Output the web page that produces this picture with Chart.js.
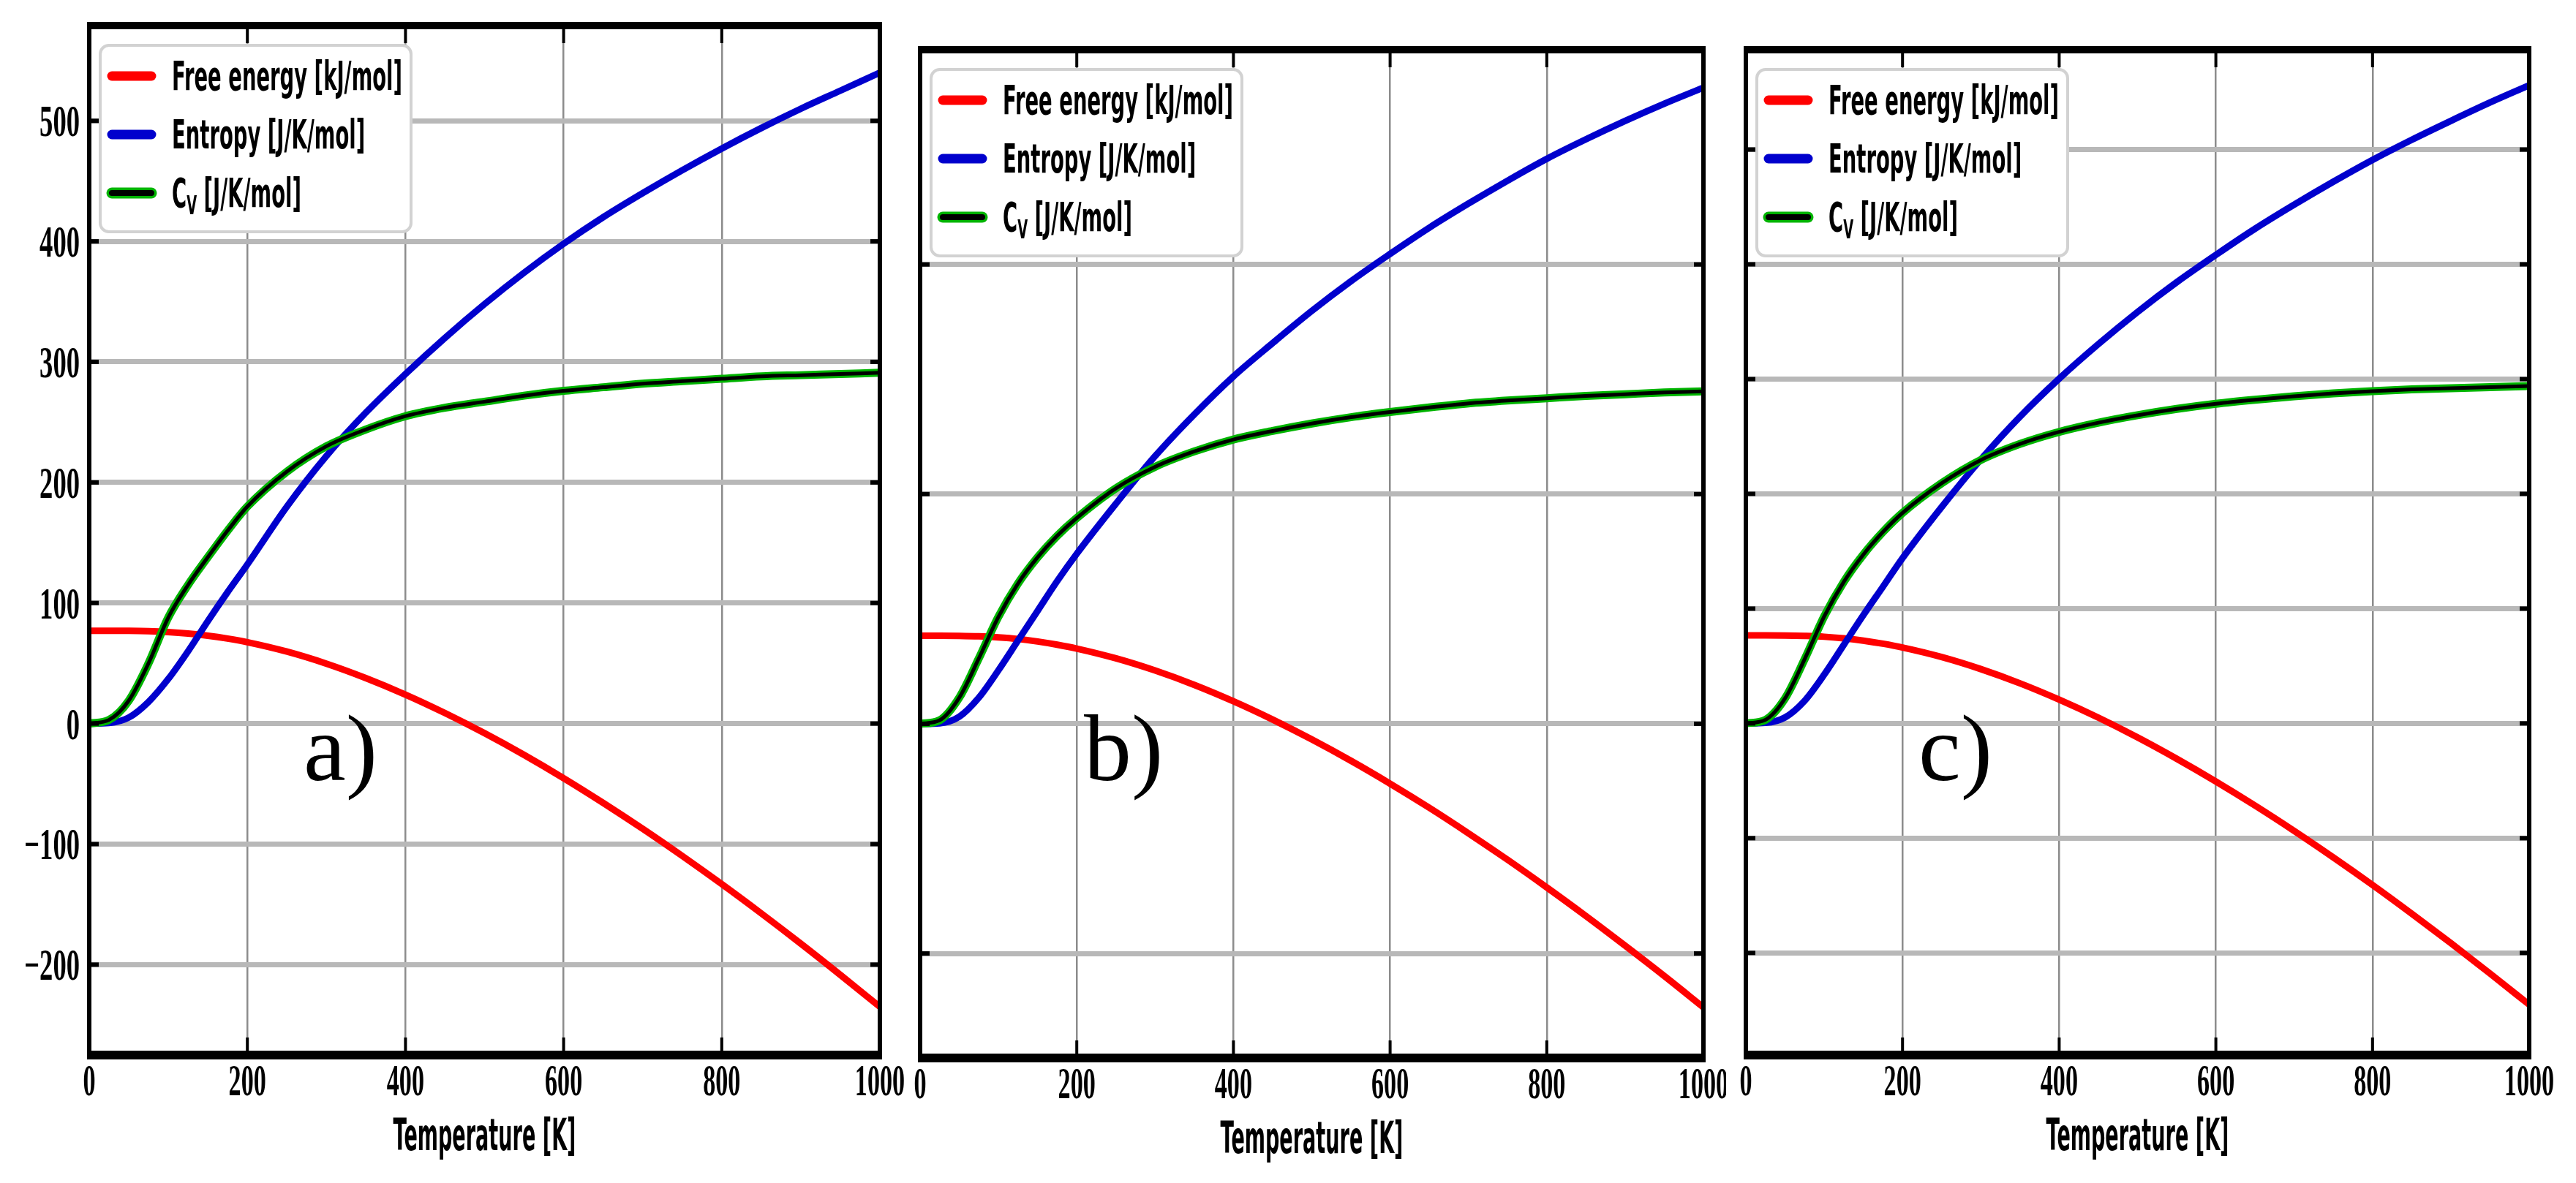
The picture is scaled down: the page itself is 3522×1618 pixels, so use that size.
<!DOCTYPE html>
<html>
<head>
<meta charset="utf-8">
<script src="https://cdn.jsdelivr.net/npm/chart.js@4.4.1/dist/chart.umd.min.js"></script>
<style>
  html, body { margin: 0; padding: 0; background: #fff; }
  body { width: 3522px; height: 1618px; position: relative; overflow: hidden; }
  canvas { position: absolute; top: 0; }
</style>
</head>
<body>
<canvas id="chartA" width="1260" height="1618" style="left:0px"></canvas>
<canvas id="chartB" width="1130" height="1618" style="left:1230px"></canvas>
<canvas id="chartC" width="1162" height="1618" style="left:2360px"></canvas>
<script>
// Temperature grid (K) shared by all three panels
const temps = [0, 25, 50, 75, 100, 125, 150, 175, 200, 250, 300, 350, 400, 450, 500, 550, 600, 650, 700, 750, 800, 850, 900, 950, 1000];

// Panel a)
const freeA = [77, 77, 76.9, 76.6, 75.9, 74.7, 72.9, 70.5, 67.5, 59.7, 49.7, 37.7, 24, 8.7, -8, -26, -45.3, -65.8, -87.3, -109.8, -133.2, -157.5, -182.6, -208.5, -235];
const entropyA = [0, 0.5, 5, 18, 37, 60, 85, 109, 132, 180, 222, 258, 290, 320, 348, 374, 398, 420, 440, 459, 477, 494, 510, 525, 540];
const cvA = [0, 3, 19, 50, 88, 115, 138, 160, 180, 209, 230, 244, 255, 262, 267, 272, 276, 279, 282, 284, 286, 288, 289, 290, 291];

// Panel b)
const freeB = [76.7, 76.7, 76.6, 76.2, 75.3, 73.9, 71.7, 68.9, 65.5, 57, 46.4, 33.9, 19.6, 3.7, -13.6, -32.2, -52.1, -73.1, -95.3, -118.4, -142.5, -167.4, -193.2, -219.6, -246.9];
const entropyB = [0, 0.5, 6.2, 22.8, 46.6, 72.5, 98.4, 124.3, 148.1, 191.7, 233.1, 269.4, 302.5, 331.5, 359.5, 385.4, 409.2, 432, 453, 473, 492, 509, 525, 540, 554];
const cvB = [0, 3.1, 22.8, 57, 93.2, 122.2, 145, 163.7, 179.2, 205.1, 223.8, 237.2, 247.6, 255, 261.5, 267, 271.5, 275.5, 279, 281.5, 283.5, 285.5, 287, 288.5, 289.5];

// Panel c)
const freeC = [76.7, 76.7, 76.6, 76.2, 75.5, 74.1, 72.1, 69.4, 66.1, 57.8, 47.3, 34.9, 20.7, 5, -12.2, -30.8, -50.6, -71.6, -93.7, -116.8, -140.8, -165.8, -191.5, -218, -245.1];
const entropyC = [0, 0.5, 5.2, 19.7, 42.5, 68.4, 94.3, 119.1, 144, 188.6, 230, 267.3, 300.4, 330.5, 358.5, 384.4, 408.2, 431, 452, 472, 491, 508.5, 525, 541, 556];
const cvC = [0, 3.1, 21.8, 55.9, 93.2, 123.3, 147.1, 166.8, 183.4, 209.3, 229.5, 243.5, 254, 262, 268.5, 274, 278.5, 282, 285, 287.5, 289.5, 291, 292, 293, 294];

const seriesNames = ['Free energy [kJ/mol]', 'Entropy [J/K/mol]', 'C|V| [J/K/mol]'];
const xTitle = 'Temperature [K]';
const panelLetters = ['a)', 'b)', 'c)'];

const RED = '#ff0000', BLUE = '#0000cd', GREEN = '#00b400';

function points(ys) {
  return temps.map((t, i) => ({ x: t, y: ys[i] }));
}

function scaledText(ctx, text, x, y, sx, align) {
  ctx.save();
  ctx.translate(x, y);
  ctx.scale(sx, 1);
  ctx.textAlign = align;
  ctx.fillText(text, 0, 0);
  ctx.restore();
}

function drawLegend(ctx, ca) {
  const x0 = ca.left + 15, y0 = ca.top + 27, w = 425, h = 255;
  ctx.save();
  ctx.beginPath();
  ctx.roundRect(x0, y0, w, h, 12);
  ctx.fillStyle = '#fff';
  ctx.fill();
  ctx.lineWidth = 4;
  ctx.strokeStyle = '#d2d2d2';
  ctx.stroke();

  ctx.font = 'bold 55px "DejaVu Sans"';
  const sx = 315 / ctx.measureText(seriesNames[0]).width;
  const colors = [RED, BLUE, null];
  seriesNames.forEach((name, i) => {
    const cy = y0 + 42 + i * 80;
    ctx.lineCap = 'round';
    ctx.beginPath();
    ctx.moveTo(x0 + 16, cy);
    ctx.lineTo(x0 + 70, cy);
    if (colors[i]) {
      ctx.strokeStyle = colors[i];
      ctx.lineWidth = 13;
      ctx.stroke();
    } else {
      ctx.strokeStyle = GREEN;
      ctx.lineWidth = 15;
      ctx.stroke();
      ctx.strokeStyle = '#000';
      ctx.lineWidth = 8;
      ctx.stroke();
    }
    ctx.fillStyle = '#000';
    const tx = x0 + 98, base = cy + 19;
    const parts = name.split('|');
    if (parts.length === 1) {
      ctx.font = 'bold 55px "DejaVu Sans"';
      scaledText(ctx, name, tx, base, sx, 'left');
    } else {
      // subscripted label: C with small V
      ctx.font = 'bold 55px "DejaVu Sans"';
      scaledText(ctx, parts[0], tx, base, sx, 'left');
      let cx = tx + ctx.measureText(parts[0]).width * sx;
      ctx.font = 'bold 36px "DejaVu Sans"';
      scaledText(ctx, parts[1], cx, base + 10, sx, 'left');
      cx += ctx.measureText(parts[1]).width * sx;
      ctx.font = 'bold 55px "DejaVu Sans"';
      scaledText(ctx, parts[2], cx, base, sx, 'left');
    }
  });
  ctx.restore();
}

const decor = {
  id: 'decor',
  afterDatasetsDraw(chart) {
    drawLegend(chart.ctx, chart.chartArea);
  },
  afterDraw(chart, args, o) {
    const ctx = chart.ctx, ca = chart.chartArea;
    const xs = chart.scales.x, ys = chart.scales.y;
    ctx.save();
    ctx.fillStyle = '#000';

    // tick marks pointing inwards
    ys.ticks.forEach(t => {
      const y = ys.getPixelForValue(t.value);
      ctx.fillRect(ca.left, y - 3, 13, 6);
      ctx.fillRect(ca.right - 13, y - 3, 13, 6);
    });
    xs.ticks.forEach(t => {
      const x = xs.getPixelForValue(t.value);
      ctx.fillRect(x - 2, ca.top, 4, 24);
      ctx.fillRect(x - 2, ca.bottom - 24, 4, 24);
    });

    // frame
    ctx.fillRect(ca.left - 3, ca.top - 5, ca.width + 6, 10);
    ctx.fillRect(ca.left - 3, ca.bottom - 6, ca.width + 6, 12);
    ctx.fillRect(ca.left - 3, ca.top - 5, 6, ca.height + 11);
    ctx.fillRect(ca.right - 3, ca.top - 5, 6, ca.height + 11);

    // x tick labels
    ctx.font = 'bold 61px "Liberation Serif"';
    xs.ticks.forEach(t => {
      scaledText(ctx, String(t.value), xs.getPixelForValue(t.value), ca.bottom + 55, 0.56, 'center');
    });

    // y tick labels (first panel only)
    if (o.yLabels) {
      ys.ticks.forEach(t => {
        const txt = t.value < 0 ? '\u2212' + Math.abs(t.value) : String(t.value);
        scaledText(ctx, txt, ca.left - 13, ys.getPixelForValue(t.value) + 21, 0.6, 'right');
      });
    }

    // axis title
    ctx.font = 'bold 60px "DejaVu Sans"';
    const tsx = 250 / ctx.measureText(xTitle).width;
    scaledText(ctx, xTitle, (ca.left + ca.right) / 2, ca.bottom + 130, tsx, 'center');

    // panel letter
    ctx.font = '130px "Liberation Serif"';
    ctx.textAlign = 'left';
    ctx.fillText(o.letter, ca.left + o.letterDx, 1067);
    ctx.restore();
  }
};

function makePanel(id, free, entropy, cv, cfg) {
  const ctx = document.getElementById(id).getContext('2d');
  return new Chart(ctx, {
    type: 'line',
    data: {
      datasets: [
        { label: 'cv-core', data: points(cv), borderColor: '#000', borderWidth: 5, order: 0 },
        { label: seriesNames[2], data: points(cv), borderColor: GREEN, borderWidth: 11, order: 1 },
        { label: seriesNames[1], data: points(entropy), borderColor: BLUE, borderWidth: 9, order: 2 },
        { label: seriesNames[0], data: points(free), borderColor: RED, borderWidth: 9, order: 3 }
      ]
    },
    options: {
      responsive: false,
      animation: false,
      devicePixelRatio: 1,
      layout: { padding: cfg.padding },
      elements: {
        point: { radius: 0 },
        line: { cubicInterpolationMode: 'monotone', fill: false }
      },
      scales: {
        x: {
          type: 'linear', min: 0, max: 1000,
          ticks: { stepSize: 200, display: false },
          grid: { color: '#8c8c8c', lineWidth: 2.5, drawTicks: false },
          border: { display: false },
          afterFit: s => { s.height = 0; }
        },
        y: {
          type: 'linear', min: cfg.yMin, max: cfg.yMax,
          ticks: { stepSize: cfg.yStep, display: false, includeBounds: false },
          grid: { color: '#b8b8b8', lineWidth: 7, drawTicks: false },
          border: { display: false },
          afterFit: s => { s.width = 0; }
        }
      },
      plugins: {
        legend: { display: false },
        tooltip: { enabled: false },
        decor: { yLabels: cfg.yLabels, letter: cfg.letter, letterDx: cfg.letterDx }
      }
    },
    plugins: [decor]
  });
}

makePanel('chartA', freeA, entropyA, cvA, {
  padding: { left: 122, right: 57, top: 35, bottom: 175 },
  yMin: -275, yMax: 579, yStep: 100, yLabels: true, letter: panelLetters[0], letterDx: 293
});
makePanel('chartB', freeB, entropyB, cvB, {
  padding: { left: 28, right: 31, top: 68, bottom: 171 },
  yMin: -291, yMax: 587, yStep: 200, yLabels: false, letter: panelLetters[1], letterDx: 224
});
makePanel('chartC', freeC, entropyC, cvC, {
  padding: { left: 27, right: 64, top: 68, bottom: 175 },
  yMin: -289, yMax: 587, yStep: 100, yLabels: false, letter: panelLetters[2], letterDx: 236
});
</script>
</body>
</html>
